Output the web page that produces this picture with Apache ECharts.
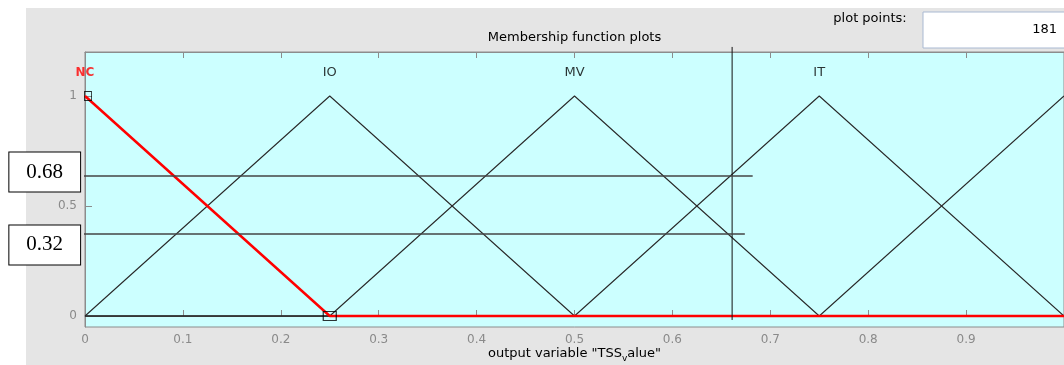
<!DOCTYPE html>
<html>
<head>
<meta charset="utf-8">
<script src="https://cdn.jsdelivr.net/npm/echarts@6/dist/echarts.min.js"></script>
<style>html,body{margin:0;padding:0;background:#fff;}#c{width:1064px;height:365px;}</style>
</head>
<body>
<div id="c"></div>
<script>
// ---- data ----
const xTickValues = [0, 0.1, 0.2, 0.3, 0.4, 0.5, 0.6, 0.7, 0.8, 0.9, 1];
const yTickValues = [0, 0.5, 1];
const mfLabels = ['NC', 'IO', 'MV', 'IT'];
const mfLabelX = [0, 0.25, 0.5, 0.75];
const mfLabelY = 1.105;
const mfNC = [[0, 1], [0.25, 0], [1, 0]];
const mfIO = [[0, 0], [0.25, 1], [0.5, 0], [1, 0]];
const mfMV = [[0, 0], [0.25, 0], [0.5, 1], [0.75, 0], [1, 0]];
const mfIT = [[0, 0], [0.5, 0], [0.75, 1], [1, 0]];
const mfLast = [[0, 0], [0.75, 0], [1, 1]];
const ncMarkers = [[0, 1], [0.25, 0]];
const cutX = 0.661;
const cutVertical = [[cutX, -0.018], [cutX, 1.223]];
const cutHighLine = [[-0.005, 0.636], [0.682, 0.636]];
const cutLowLine = [[-0.005, 0.373], [0.674, 0.373]];
const cutHighText = '0.68';
const cutLowText = '0.32';
const plotPoints = '181';

const font = 'DejaVu Sans, Liberation Sans, sans-serif';
const chart = echarts.init(document.getElementById('c'), null, {renderer: 'canvas'});

function boxLabel(text, dy) {
  return {
    show: true, position: 'left', distance: 0, formatter: text,
    backgroundColor: '#fff', borderColor: '#000', borderWidth: 1,
    padding: [9, 17, 9, 17], fontFamily: 'Liberation Serif, Times New Roman, serif',
    fontSize: 21, color: '#000', offset: [0, dy]
  };
}

const option = {
  backgroundColor: '#fff',
  animation: false,
  graphic: {
    elements: [
      {type: 'rect', z: -100, silent: true, shape: {x: 26, y: 8, width: 1038, height: 357}, style: {fill: '#e5e5e5'}},
      {type: 'text', x: 870, y: 19, style: {text: 'plot points:', fontFamily: font, fontSize: 13, fill: '#000', align: 'center', verticalAlign: 'middle'}},
      {type: 'rect', shape: {x: 923, y: 12, width: 145, height: 36}, style: {fill: '#fff', stroke: '#a9b9d2', lineWidth: 1}},
      {type: 'text', x: 1057, y: 30, style: {text: plotPoints, fontFamily: font, fontSize: 13, fill: '#000', align: 'right', verticalAlign: 'middle'}}
    ]
  },
  grid: {left: 85, right: 0, top: 52, bottom: 38, outerBoundsMode: 'none', containLabel: false,
    show: true, backgroundColor: '#ccffff', borderColor: '#8c8c8c', borderWidth: 1},
  xAxis: [
    {
      type: 'value', min: 0, max: 1, interval: 0.1, position: 'bottom',
      name: '{a|output variable "TSS}{s|v}{a|alue"}', nameLocation: 'middle', nameGap: 18, nameMoveOverlap: false,
      nameTextStyle: {rich: {a: {fontFamily: font, fontSize: 13, color: '#000'}, s: {fontFamily: font, fontSize: 9, color: '#000', padding: [9, 0, 0, 0]}}},
      axisLine: {show: true, lineStyle: {color: '#8c8c8c', width: 1}},
      axisTick: {show: true, inside: true, length: 6, lineStyle: {color: '#8c8c8c'}, customValues: xTickValues},
      axisLabel: {color: '#8a8a8a', fontFamily: font, fontSize: 12, margin: 7, showMaxLabel: false},
      splitLine: {show: false}
    },
    {
      type: 'value', min: 0, max: 1, interval: 0.1, position: 'top',
      name: 'Membership function plots', nameLocation: 'middle', nameGap: 8,
      nameTextStyle: {fontFamily: font, fontSize: 13, color: '#000'},
      axisLine: {show: true, lineStyle: {color: '#8c8c8c', width: 1}},
      axisTick: {show: true, inside: true, length: 6, lineStyle: {color: '#8c8c8c'}},
      axisLabel: {show: false},
      splitLine: {show: false}
    }
  ],
  yAxis: {
    type: 'value', min: -0.05, max: 1.2,
    axisLine: {show: true, lineStyle: {color: '#8c8c8c', width: 1}},
    axisTick: {show: true, inside: true, length: 7, lineStyle: {color: '#8c8c8c'}, customValues: yTickValues},
    axisLabel: {color: '#8a8a8a', fontFamily: font, fontSize: 12, margin: 8, customValues: yTickValues},
    splitLine: {show: false}
  },
  series: [
    {type: 'line', data: mfIO, symbol: 'none', lineStyle: {color: '#2a2a2a', width: 1.1}, z: 3},
    {type: 'line', data: mfMV, symbol: 'none', lineStyle: {color: '#2a2a2a', width: 1.1}, z: 3},
    {type: 'line', data: mfIT, symbol: 'none', lineStyle: {color: '#2a2a2a', width: 1.1}, z: 3},
    {type: 'line', data: mfLast, symbol: 'none', lineStyle: {color: '#2a2a2a', width: 1.1}, z: 3},
    {type: 'line', data: mfNC, symbol: 'none', lineStyle: {color: '#ff0000', width: 2.5}, z: 4},
    {type: 'scatter', symbol: 'rect', itemStyle: {color: 'rgba(0,0,0,0)', borderColor: '#000', borderWidth: 1}, z: 5,
      data: [
        {value: ncMarkers[0], symbolSize: [7, 9], symbolOffset: [3, 0]},
        {value: ncMarkers[1], symbolSize: [13, 9]}
      ]},
    {type: 'scatter', symbolSize: 0, z: 5,
      data: mfLabels.map((n, i) => ({value: [mfLabelX[i], mfLabelY], name: n,
        label: {show: true, position: 'inside', formatter: n, fontFamily: font, fontSize: i === 0 ? 12 : 13,
          color: i === 0 ? '#ff0000' : '#000', fontWeight: i === 0 ? 'bold' : 'normal'}}))},
    {type: 'line', data: cutVertical, symbol: 'none', clip: false, lineStyle: {color: '#111', width: 1}, z: 6},
    {type: 'line', clip: false, symbol: 'circle', symbolSize: 0, showSymbol: true, lineStyle: {color: '#444', width: 1.5}, z: 6,
      data: [{value: cutHighLine[0], label: boxLabel(cutHighText, -4)}, cutHighLine[1]]},
    {type: 'line', clip: false, symbol: 'circle', symbolSize: 0, showSymbol: true, lineStyle: {color: '#444', width: 1.5}, z: 6,
      data: [{value: cutLowLine[0], label: boxLabel(cutLowText, 11)}, cutLowLine[1]]}
  ]
};
chart.setOption(option);
</script>
</body>
</html>
